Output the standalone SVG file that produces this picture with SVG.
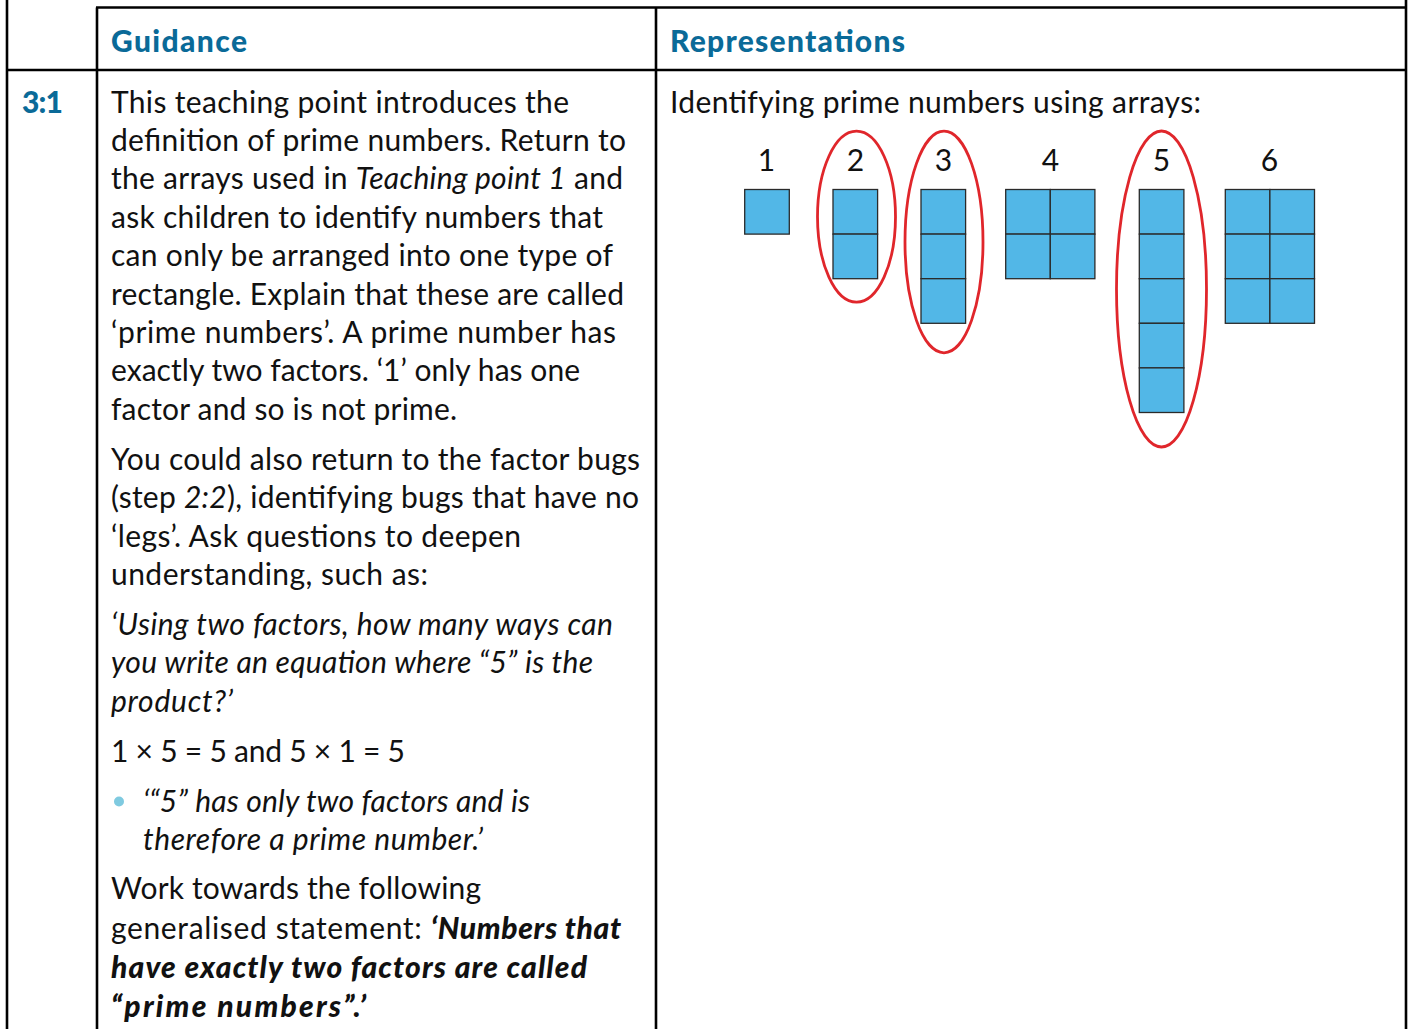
<svg xmlns="http://www.w3.org/2000/svg" width="1408" height="1029" viewBox="0 0 1408 1029">
  <style>
    .rule { stroke: #000; stroke-width: 2.6; fill: none; }
    .body { font-family: Lato, "Open Sans", sans-serif; font-size: 30px; fill: #111; }
    .it { font-style: italic; }
    .bi { font-style: italic; font-weight: 900; }
    .head { font-family: Lato, "Open Sans", sans-serif; font-size: 30px; font-weight: 900; fill: #0a6a98; }
    .num { font-family: Lato, "Open Sans", sans-serif; font-size: 30px; fill: #111; text-anchor: middle; }
    .cell { fill: #52b7e7; stroke: #2a2a2a; stroke-width: 1.3; }
    .ring { fill: none; stroke: #e0262b; stroke-width: 2.8; }
  </style>

  <rect width="1408" height="1029" fill="#fff"/>

  <!-- table rules -->
  <g id="table">
    <line class="rule" x1="7" y1="0" x2="7" y2="1029"/>
    <line class="rule" x1="97" y1="7.5" x2="97" y2="1029"/>
    <line class="rule" x1="656" y1="7.5" x2="656" y2="1029"/>
    <line class="rule" x1="1406" y1="0" x2="1406" y2="1029"/>
    <line class="rule" x1="96" y1="7.5" x2="1407" y2="7.5"/>
    <line class="rule" x1="6" y1="70" x2="1407" y2="70"/>
  </g>

  <!-- column headings -->
  <g id="headings">
    <text class="head" x="111" y="51.5" textLength="136">Guidance</text>
    <text class="head" x="670" y="51.5" textLength="235">Representations</text>
    <text class="head" x="22" y="113" textLength="41">3:1</text>
  </g>

  <!-- guidance column -->
  <g id="guidance" class="body">
    <text x="111" y="112.5" textLength="458">This teaching point introduces the</text>
    <text x="111" y="150.9" textLength="515">definition of prime numbers. Return to</text>
    <text x="111" y="189.3" textLength="512">the arrays used in <tspan class="it">Teaching point 1</tspan> and</text>
    <text x="111" y="227.7" textLength="492">ask children to identify numbers that</text>
    <text x="111" y="266.1" textLength="502">can only be arranged into one type of</text>
    <text x="111" y="304.5" textLength="513">rectangle. Explain that these are called</text>
    <text x="111" y="342.9" textLength="505">‘prime numbers’. A prime number has</text>
    <text x="111" y="381.3" textLength="469">exactly two factors. ‘1’ only has one</text>
    <text x="111" y="419.7" textLength="346">factor and so is not prime.</text>

    <text x="111" y="469.7" textLength="529">You could also return to the factor bugs</text>
    <text x="111" y="508.1" textLength="528">(step <tspan class="it">2:2</tspan>), identifying bugs that have no</text>
    <text x="111" y="546.5" textLength="410">‘legs’. Ask questions to deepen</text>
    <text x="111" y="584.9" textLength="317">understanding, such as:</text>

    <text class="it" x="111" y="634.9" textLength="502">‘Using two factors, how many ways can</text>
    <text class="it" x="111" y="673.3" textLength="482">you write an equation where “5” is the</text>
    <text class="it" x="111" y="711.7" textLength="122">product?’</text>

    <text x="111" y="761.7" textLength="294">1 × 5 = 5 and 5 × 1 = 5</text>

    <circle cx="119" cy="801.5" r="5" fill="#7fcae0"/>
    <text class="it" x="143" y="811.7" textLength="387">‘“5” has only two factors and is</text>
    <text class="it" x="143" y="850.1" textLength="340">therefore a prime number.’</text>

    <text x="111" y="898.5" textLength="370">Work towards the following</text>
    <text x="111" y="938.5" textLength="510">generalised statement: <tspan class="bi">‘Numbers that</tspan></text>
    <text class="bi" x="111" y="977.5" textLength="476">have exactly two factors are called</text>
    <text class="bi" x="111" y="1016.5" textLength="255">“prime numbers”.’</text>
  </g>

  <!-- representations column -->
  <text class="body" x="670" y="112.5" textLength="531">Identifying prime numbers using arrays:</text>

  <g id="array-1">
    <text class="num" x="766.5" y="171">1</text>
    <rect class="cell" x="744.7" y="189.5" width="44.6" height="44.6"/>
  </g>

  <g id="array-2">
    <text class="num" x="855.5" y="171">2</text>
    <rect class="cell" x="833" y="189.5" width="44.6" height="44.6"/>
    <rect class="cell" x="833" y="234.1" width="44.6" height="44.6"/>
    <ellipse class="ring" cx="856.5" cy="216.7" rx="39" ry="85.5"/>
  </g>

  <g id="array-3">
    <text class="num" x="943.5" y="171">3</text>
    <rect class="cell" x="921" y="189.5" width="44.6" height="44.6"/>
    <rect class="cell" x="921" y="234.1" width="44.6" height="44.6"/>
    <rect class="cell" x="921" y="278.7" width="44.6" height="44.6"/>
    <ellipse class="ring" cx="944" cy="242" rx="39" ry="110.8"/>
  </g>

  <g id="array-4">
    <text class="num" x="1050.5" y="171">4</text>
    <rect class="cell" x="1005.7" y="189.5" width="44.6" height="44.6"/>
    <rect class="cell" x="1050.3" y="189.5" width="44.6" height="44.6"/>
    <rect class="cell" x="1005.7" y="234.1" width="44.6" height="44.6"/>
    <rect class="cell" x="1050.3" y="234.1" width="44.6" height="44.6"/>
  </g>

  <g id="array-5">
    <text class="num" x="1161.5" y="171">5</text>
    <rect class="cell" x="1139.3" y="189.5" width="44.6" height="44.6"/>
    <rect class="cell" x="1139.3" y="234.1" width="44.6" height="44.6"/>
    <rect class="cell" x="1139.3" y="278.7" width="44.6" height="44.6"/>
    <rect class="cell" x="1139.3" y="323.3" width="44.6" height="44.6"/>
    <rect class="cell" x="1139.3" y="367.9" width="44.6" height="44.6"/>
    <ellipse class="ring" cx="1161.5" cy="289" rx="45" ry="158"/>
  </g>

  <g id="array-6">
    <text class="num" x="1269.5" y="171">6</text>
    <rect class="cell" x="1225.3" y="189.5" width="44.6" height="44.6"/>
    <rect class="cell" x="1269.9" y="189.5" width="44.6" height="44.6"/>
    <rect class="cell" x="1225.3" y="234.1" width="44.6" height="44.6"/>
    <rect class="cell" x="1269.9" y="234.1" width="44.6" height="44.6"/>
    <rect class="cell" x="1225.3" y="278.7" width="44.6" height="44.6"/>
    <rect class="cell" x="1269.9" y="278.7" width="44.6" height="44.6"/>
  </g>
</svg>
